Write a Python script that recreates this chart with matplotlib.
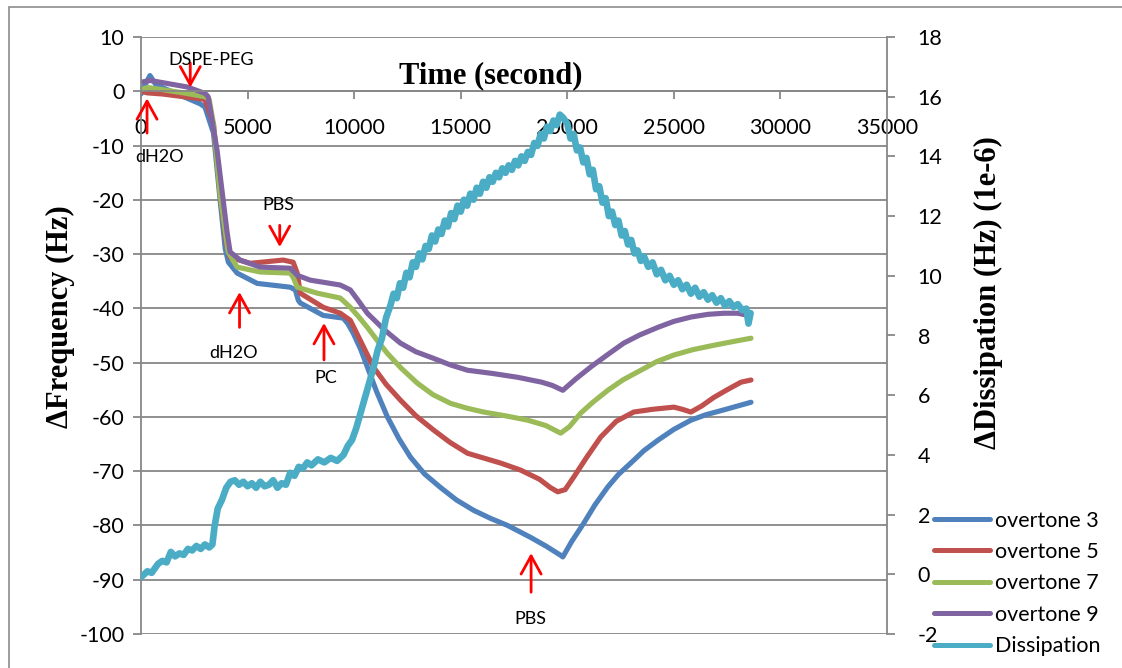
import numpy as np
import matplotlib
matplotlib.use('Agg')
import matplotlib.pyplot as plt
from matplotlib.patches import Rectangle
from matplotlib.lines import Line2D

plt.rcParams['font.family'] = ['Lato', 'DejaVu Sans']
plt.rcParams['axes.unicode_minus'] = False

# dados
t_ov3 = [0, 100, 420, 700, 2770, 3000, 3400, 3710, 3950, 4100, 4510, 5450, 7000, 7240, 7380,
         7470, 8550, 9490, 9700, 9960, 10300, 10620, 11050, 11560, 12100, 12640, 13300, 14050,
         14800, 15600, 16400, 17200, 18280, 19000, 19690, 19790, 20200, 20770, 21300, 21900,
         22400, 22980, 23600, 24250, 25000, 25800, 26500, 27350, 28620]
f_ov3 = [-0.5, 0.5, 2.9, 1.2, -2.3, -2.9, -7.7, -20, -29, -31.5, -33.5, -35.4, -36.1, -36.6, -38.5,
         -39, -41.3, -41.8, -42.8, -44.6, -47.5, -50.8, -55.3, -60, -64.0, -67.4, -70.5, -73,
         -75.3, -77.2, -78.7, -80, -82.2, -83.8, -85.5, -85.8, -83.0, -79.6, -76.2, -72.9,
         -70.6, -68.5, -66.2, -64.3, -62.3, -60.6, -59.6, -58.7, -57.3]

t_ov5 = [0, 300, 1000, 2000, 3000, 3400, 3710, 4000, 4180, 5120, 6670, 7140, 7330, 7470, 8550,
         9350, 9820, 10300, 10900, 11500, 12170, 12900, 13720, 14500, 15320, 16870, 17810,
         18700, 19200, 19550, 19900, 20300, 20900, 21570, 22300, 23120, 24000, 25000, 25400,
         25800, 26300, 26880, 27500, 28150, 28620]
f_ov5 = [0, -0.3, -0.5, -1.0, -1.5, -6, -19, -28, -30.6, -31.7, -31.1, -31.5, -33.5, -37.2, -39.8,
         -40.9, -42.2, -46.0, -50.8, -54.0, -56.9, -59.8, -62.4, -64.7, -66.7, -68.5, -69.8,
         -71.5, -73.0, -73.8, -73.4, -71.1, -67.5, -63.7, -60.8, -59.1, -58.6, -58.2, -58.6,
         -59.1, -58.0, -56.4, -55.0, -53.6, -53.2]

t_ov7 = [0, 300, 1000, 2000, 3000, 3200, 3400, 3710, 4090, 4510, 5590, 7000, 7140, 7330, 8270,
         9350, 9820, 10200, 10620, 11100, 11560, 12200, 12970, 13700, 14520, 15300, 16070,
         17100, 18140, 19000, 19690, 20100, 20630, 21200, 21900, 22600, 23450, 24200, 25000,
         25900, 26880, 27800, 28620]
f_ov7 = [0.3, 0.7, 0.3, -0.3, -1.0, -1.5, -6, -19, -29.6, -32.4, -33.3, -33.5, -34.3, -36.1, -37.2,
         -38.1, -39.8, -41.5, -43.5, -46.0, -48.3, -51.0, -53.8, -55.9, -57.5, -58.4, -59.1,
         -59.8, -60.6, -61.6, -63, -61.8, -59.3, -57.3, -55.1, -53.2, -51.4, -49.8, -48.6,
         -47.6, -46.8, -46.1, -45.5]

t_ov9 = [50, 420, 2160, 3010, 3150, 3570, 4040, 4180, 4650, 5590, 7000, 7330, 7940, 9350, 9820,
         10200, 10620, 11400, 12170, 12900, 13720, 14500, 15320, 16500, 17670, 18800, 19300,
         19790, 20400, 21100, 21900, 22650, 23400, 24250, 25000, 25800, 26600, 27350, 28000,
         28480]
f_ov9 = [1.7, 2.0, 0.8, -0.4, -1.0, -10.9, -26, -29.6, -31.1, -32.4, -32.6, -33.9, -34.8, -35.7, -36.6,
         -38.6, -40.9, -43.9, -46.4, -48.0, -49.2, -50.4, -51.4, -52.0, -52.7, -53.6, -54.2,
         -55.1, -53.0, -50.8, -48.5, -46.4, -44.9, -43.5, -42.4, -41.6, -41.1, -40.9, -40.9,
         -41.3]

t_dis = [0, 300, 500, 800, 1000, 1200, 1400, 1600, 1800, 2000, 2200, 2400, 2600, 2800, 3000,
         3200, 3350, 3450, 3600, 3800, 4000, 4200, 4400, 4600, 4800, 5000, 5200, 5400, 5600,
         5800, 6000, 6200, 6400, 6600, 6800, 7000, 7200, 7400, 7600, 7800, 8000, 8300, 8600,
         8900, 9200, 9500, 9700, 9900, 10100, 10300, 10500, 10700, 10900, 11100, 11300, 11500,
         11700, 11850, 12000, 12150, 12300, 12450, 12600, 12750, 12900, 13050, 13200, 13350,
         13500, 13650, 13800, 13950, 14100, 14250, 14400, 14550, 14700, 14850, 15000, 15150,
         15300, 15450, 15600, 15750, 15900, 16050, 16200, 16350, 16500, 16650, 16800, 16950,
         17100, 17250, 17400, 17550, 17700, 17850, 18000, 18150, 18300, 18450, 18600, 18750,
         18900, 19050, 19200, 19350, 19500, 19650, 19800, 20000, 20150, 20300, 20450, 20600,
         20750, 20900, 21050, 21200, 21350, 21500, 21650, 21800, 21950, 22100, 22250, 22400,
         22550, 22700, 22850, 23000, 23150, 23300, 23450, 23600, 23800, 24000, 24200, 24400,
         24600, 24800, 25000, 25200, 25400, 25600, 25800, 26000, 26200, 26400, 26600, 26800,
         27000, 27200, 27400, 27600, 27800, 28000, 28200, 28400, 28500, 28600]
d_dis = [-0.10, 0.10, 0.05, 0.35, 0.45, 0.40, 0.75, 0.60, 0.70, 0.65, 0.85, 0.80, 0.95, 0.85, 1.00,
         0.90, 1.00, 1.60, 2.20, 2.50, 2.90, 3.10, 3.15, 3.00, 3.10, 2.95, 3.05, 2.90, 3.10,
         2.95, 3.00, 3.15, 2.90, 3.05, 3.00, 3.40, 3.30, 3.60, 3.55, 3.75, 3.65, 3.85, 3.75,
         3.90, 3.80, 4.00, 4.30, 4.50, 4.90, 5.40, 5.90, 6.40, 6.90, 7.50, 7.90, 8.60,
         9.00, 9.40, 9.25, 9.75, 9.60, 10.10, 9.95, 10.45, 10.30, 10.75, 10.55, 11.00,
         10.90, 11.35, 11.15, 11.55, 11.40, 11.85, 11.65, 12.10, 11.90, 12.35, 12.15, 12.55,
         12.35, 12.75, 12.55, 12.95, 12.75, 13.15, 12.95, 13.30, 13.15, 13.45, 13.30, 13.60,
         13.45, 13.70, 13.55, 13.85, 13.70, 14.00, 13.85, 14.15, 14.05, 14.45, 14.35, 14.75,
         14.60, 15.00, 14.85, 15.20, 15.05, 15.40, 15.30, 15.10, 14.60, 14.75, 14.20, 14.30,
         13.80, 13.95, 13.40, 13.55, 12.90, 13.00, 12.45, 12.60, 12.00, 12.15, 11.70, 11.85,
         11.35, 11.50, 11.05, 11.20, 10.75, 10.85, 10.50, 10.65, 10.30, 10.45, 10.05, 10.20,
         9.85, 10.00, 9.70, 9.85, 9.55, 9.70, 9.40, 9.60, 9.30, 9.45, 9.20, 9.35,
         9.10, 9.25, 9.00, 9.15, 8.95, 9.05, 8.85, 8.90, 8.40, 8.75]

nomes = ['overtone 3', 'overtone 5', 'overtone 7', 'overtone 9', 'Dissipation']
cores = ['#4F81BD', '#C0504D', '#9BBB59', '#8064A2', '#4BACC6']

W, H = 1122, 668
fig = plt.figure(figsize=(W / 100, H / 100), dpi=100)
ax = fig.add_axes([141 / W, 1 - 634 / H, (887 - 141) / W, (634 - 37) / H])

# moldura externa
fig.patches.append(Rectangle((9 / W, -0.05), 1.2, 1 - 7 / H + 0.05, transform=fig.transFigure,
                             fill=False, edgecolor='#8c8c8c', lw=1.2))

cinza = '#878787'
series = [(t_ov3, f_ov3), (t_ov5, f_ov5), (t_ov7, f_ov7), (t_ov9, f_ov9)]
for (tt, ff), c in zip(series, cores[:4]):
    ax.plot(tt, ff, color=c, lw=3.7, solid_capstyle='round', solid_joinstyle='round')

ax.set_xlim(0, 35000)
ax.set_ylim(-100, 10)
ax.set_yticks(np.arange(-100, 11, 10))
ax.set_xticks(np.arange(0, 35001, 5000))
ax.yaxis.grid(True, color=cinza, lw=1.3)
ax.set_axisbelow(True)
ax.spines['bottom'].set_position(('data', 0))
ax.spines['top'].set_visible(False)
ax.spines['right'].set_visible(False)
for s in ['left', 'bottom']:
    ax.spines[s].set_color(cinza)
    ax.spines[s].set_linewidth(1.3)
ax.tick_params(axis='y', length=6, width=1.3, color=cinza, labelsize=15.5, pad=6)
ax.tick_params(axis='x', length=6, width=1.3, color=cinza, labelsize=15.5, pad=13)

ax2 = ax.twinx()
ax2.plot(t_dis, d_dis, color=cores[4], lw=4.8, solid_joinstyle='round', solid_capstyle='round')
ax2.set_ylim(-2, 18)
ax2.set_yticks(np.arange(-2, 19, 2))
for s in ['left', 'top', 'bottom']:
    ax2.spines[s].set_visible(False)
ax2.spines['right'].set_color(cinza)
ax2.spines['right'].set_linewidth(1.3)
ax2.tick_params(axis='y', length=6, width=1.3, color=cinza, labelsize=15.5, pad=16)

# setas vermelhas das injecoes
setas = [('dH2O', 283, -7.7, -1.3, 849, -12.2),
         ('DSPE-PEG', 2311, 5.2, 0.7, 3302, 5.7),
         ('PBS', 6509, -24.7, -28.7, 6462, -21.0),
         ('dH2O', 4623, -43.5, -37.0, 4340, -48.3),
         ('PC', 8585, -49.5, -42.7, 8679, -52.9),
         ('PBS', 18302, -92.3, -85.1, 18255, -97.2)]
for txt, xa, y0, y1, xl, yl in setas:
    ax2.annotate('', xy=(xa, y1), xytext=(xa, y0), xycoords=ax.transData, textcoords=ax.transData,
                 arrowprops=dict(arrowstyle='->,head_length=0.65,head_width=0.36', color='red',
                                 lw=2, mutation_scale=20, shrinkA=0, shrinkB=0))
    ax2.text(xl, yl, txt, transform=ax.transData, ha='center', va='center', fontsize=13)

fig.text(491 / W, 1 - 76 / H, 'Time (second)', ha='center', va='center', fontsize=22,
         family='Liberation Serif', weight='bold')
fig.text(60 / W, 1 - 317 / H, 'ΔFrequency (Hz)', ha='center', va='center', fontsize=22,
         family='Liberation Serif', weight='bold', rotation=90)
fig.text(988 / W, 1 - 293 / H, 'ΔDissipation (Hz) (1e-6)', ha='center', va='center', fontsize=22,
         family='Liberation Serif', weight='bold', rotation=90)

handles = [Line2D([], [], color=c, lw=3.6, solid_capstyle='round') for c in cores]
fig.legend(handles, nomes, loc='upper left', bbox_to_anchor=(925 / W, 1 - 502 / H), frameon=False,
           fontsize=15.5, handlelength=2.6, handletextpad=0.25, labelspacing=0.53, borderaxespad=0)

fig.savefig('out.png', dpi=100)
